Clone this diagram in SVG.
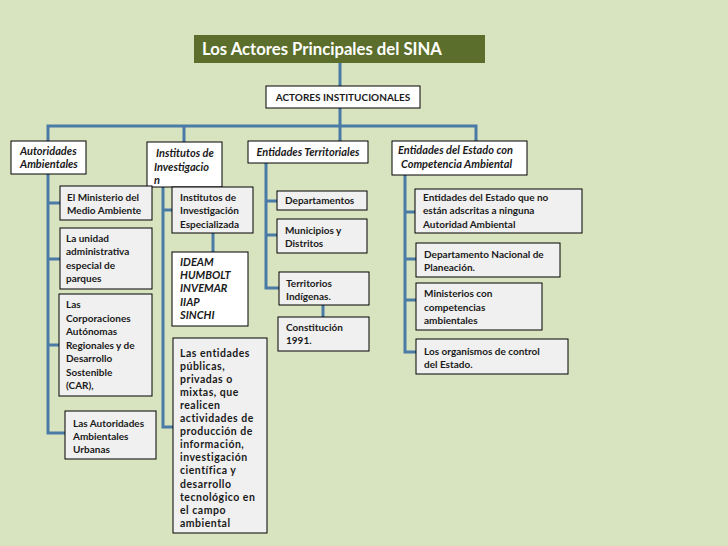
<svg xmlns="http://www.w3.org/2000/svg" width="728" height="546" viewBox="0 0 728 546">
<style>
.bg{fill:#d8e4bf}
.box{fill:#f0f0f0;stroke:#000;stroke-width:1}
.hdr{fill:#fff;stroke:#000;stroke-width:1}
.t{font-family:Lato,"Liberation Sans",sans-serif;font-size:10px;font-weight:bold;fill:#1a1a1a}
.i{font-style:italic;font-size:11px}
.big{font-size:10.5px;letter-spacing:0.5px}
.c{stroke:#4a7aa6;stroke-width:3;fill:none}
.title{font-family:Lato,"Liberation Sans",sans-serif;font-size:16.7px;font-weight:bold;fill:#fff}
</style>
<rect class="bg" x="0" y="0" width="728" height="546"/>
<g id="connectors">
<path class="c" d="M340 63V86"/>
<path class="c" d="M340 108V141"/>
<path class="c" d="M48 141V126H476V141"/>
<path class="c" d="M184 126V142"/>
<path class="c" d="M48 174V433H65"/>
<path class="c" d="M48 203H60M48 259H60M48 345H59"/>
<path class="c" d="M163 178V427H173"/>
<path class="c" d="M163 210H172"/>
<path class="c" d="M213 233V252"/>
<path class="c" d="M266 163V288H279"/>
<path class="c" d="M266 201H277M266 235H277"/>
<path class="c" d="M323 305V317"/>
<path class="c" d="M405 175V352H416"/>
<path class="c" d="M405 212H415M405 259H416M405 300H416"/>
</g>
<g id="title">
<rect x="194" y="35" width="291" height="28" fill="#5b6e2b"/>
<text class="title" x="202" y="55">Los Actores Principales del SINA</text>
</g>
<g id="actores">
<rect class="hdr" x="266" y="86" width="154" height="22"/>
<text class="t" x="343" y="101" text-anchor="middle" font-size="9.7">ACTORES INSTITUCIONALES</text>
</g>
<g id="autoridades">
<rect class="hdr" x="11" y="141" width="75" height="33"/>
<text class="t i" x="20" y="155">Autoridades</text>
<text class="t i" x="20" y="168">Ambientales</text>
</g>
<g id="institutos">
<rect class="hdr" x="147" y="142" width="75" height="45"/>
<text class="t i" x="156" y="157">Institutos de</text>
<text class="t i" x="154" y="171">Investigacio</text>
<text class="t i" x="154" y="184">n</text>
</g>
<g id="territoriales">
<rect class="hdr" x="248" y="141" width="120" height="22"/>
<text class="t i" x="308" y="156" text-anchor="middle">Entidades Territoriales</text>
</g>
<g id="estado">
<rect class="hdr" x="392" y="141" width="135" height="34"/>
<text class="t i" x="398" y="154">Entidades del Estado con</text>
<text class="t i" x="401" y="168">Competencia Ambiental</text>
</g>
<g id="ministerio">
<rect class="box" x="60" y="186" width="92" height="34"/>
<text class="t" x="67" y="201">El Ministerio del</text>
<text class="t" x="67" y="214">Medio Ambiente</text>
</g>
<g id="unidad">
<rect class="box" x="60" y="228" width="92" height="61"/>
<text class="t" x="66" y="242">La unidad</text>
<text class="t" x="66" y="255">administrativa</text>
<text class="t" x="66" y="269">especial de</text>
<text class="t" x="66" y="282"> parques</text>
</g>
<g id="car">
<rect class="box" x="59" y="294" width="93" height="102"/>
<text class="t" x="66" y="308">Las</text>
<text class="t" x="66" y="322">Corporaciones</text>
<text class="t" x="66" y="335">Autónomas</text>
<text class="t" x="66" y="349">Regionales y de</text>
<text class="t" x="66" y="362">Desarrollo</text>
<text class="t" x="66" y="376">Sostenible</text>
<text class="t" x="66" y="389">(CAR),</text>
</g>
<g id="urbanas">
<rect class="box" x="65" y="411" width="91" height="48"/>
<text class="t" x="73" y="427">Las Autoridades</text>
<text class="t" x="73" y="440">Ambientales</text>
<text class="t" x="73" y="453">Urbanas</text>
</g>
<g id="especializada">
<rect class="box" x="172" y="187" width="81" height="46"/>
<text class="t" x="180" y="201">Institutos de</text>
<text class="t" x="180" y="214">Investigación</text>
<text class="t" x="180" y="228">Especializada</text>
</g>
<g id="ideam">
<rect class="hdr" x="172" y="252" width="76" height="74"/>
<text class="t i" x="180" y="266" font-size="10.3"> IDEAM</text>
<text class="t i" x="180" y="279" font-size="10.3">HUMBOLT</text>
<text class="t i" x="180" y="292" font-size="10.3">INVEMAR</text>
<text class="t i" x="180" y="306" font-size="10.3">IIAP</text>
<text class="t i" x="180" y="319" font-size="10.3">SINCHI</text>
</g>
<g id="entidades">
<rect class="box" x="173" y="338" width="94" height="195"/>
<text class="t big" x="180" y="357">Las entidades</text>
<text class="t big" x="180" y="370">públicas,</text>
<text class="t big" x="180" y="383">privadas o</text>
<text class="t big" x="180" y="396">mixtas, que</text>
<text class="t big" x="180" y="409">realicen</text>
<text class="t big" x="180" y="422">actividades de</text>
<text class="t big" x="180" y="435">producción de</text>
<text class="t big" x="180" y="448">información,</text>
<text class="t big" x="180" y="461">investigación</text>
<text class="t big" x="180" y="474">científica y</text>
<text class="t big" x="180" y="488">desarrollo</text>
<text class="t big" x="180" y="501">tecnológico en</text>
<text class="t big" x="180" y="514">el campo</text>
<text class="t big" x="180" y="527">ambiental</text>
</g>
<g id="departamentos">
<rect class="box" x="277" y="191" width="90" height="19"/>
<text class="t" x="285" y="204">Departamentos</text>
</g>
<g id="municipios">
<rect class="box" x="277" y="219" width="90" height="34"/>
<text class="t" x="285" y="234">Municipios y</text>
<text class="t" x="285" y="247">Distritos</text>
</g>
<g id="territorios">
<rect class="box" x="279" y="272" width="90" height="33"/>
<text class="t" x="286" y="287">Territorios</text>
<text class="t" x="286" y="300">Indígenas.</text>
</g>
<g id="constitucion">
<rect class="box" x="278" y="317" width="91" height="34"/>
<text class="t" x="286" y="331">Constitución</text>
<text class="t" x="286" y="344">1991.</text>
</g>
<g id="noadscritas">
<rect class="box" x="415" y="189" width="167" height="44"/>
<text class="t" x="423" y="201">Entidades del Estado que no</text>
<text class="t" x="423" y="214">están adscritas a ninguna</text>
<text class="t" x="423" y="228">Autoridad Ambiental</text>
</g>
<g id="dnp">
<rect class="box" x="416" y="243" width="144" height="34"/>
<text class="t" x="424" y="258">Departamento Nacional de</text>
<text class="t" x="424" y="271">Planeación.</text>
</g>
<g id="ministerios">
<rect class="box" x="416" y="283" width="126" height="47"/>
<text class="t" x="424" y="297">Ministerios con</text>
<text class="t" x="424" y="311">competencias</text>
<text class="t" x="424" y="324">ambientales</text>
</g>
<g id="organismos">
<rect class="box" x="416" y="339" width="152" height="35"/>
<text class="t" x="424" y="355">Los organismos de control</text>
<text class="t" x="424" y="368">del Estado.</text>
</g>
</svg>
